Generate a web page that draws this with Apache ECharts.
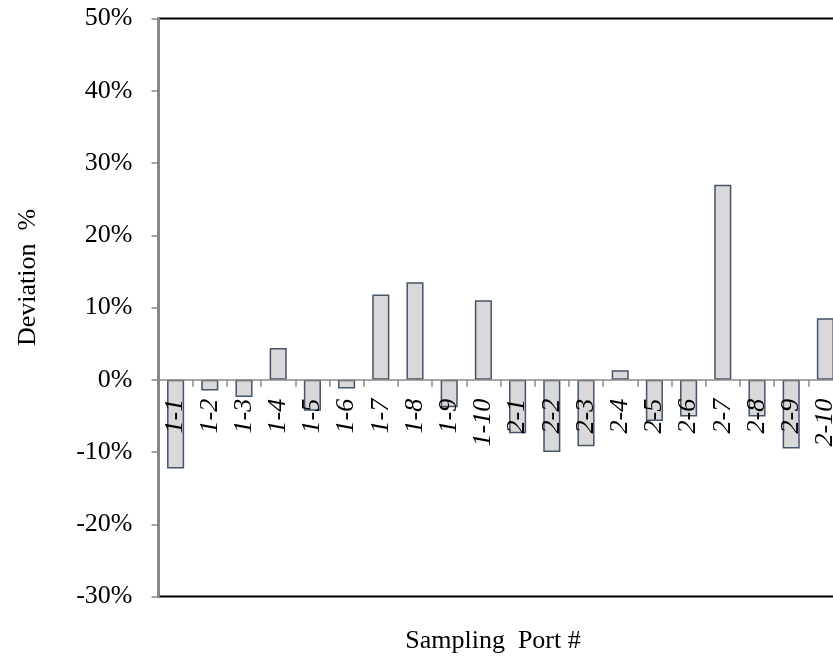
<!DOCTYPE html>
<html>
<head>
<meta charset="utf-8">
<script src="https://cdn.jsdelivr.net/npm/echarts@6/dist/echarts.min.js"></script>
<style>
html,body{margin:0;padding:0;background:#fff;}
#chart{width:833px;height:660px;}
</style>
</head>
<body>
<div id="chart"></div>
<script>
var categories = ['1-1','1-2','1-3','1-4','1-5','1-6','1-7','1-8','1-9','1-10',
                  '2-1','2-2','2-3','2-4','2-5','2-6','2-7','2-8','2-9','2-10'];
var deviation = [-12.3, -1.5, -2.4, 4.4, -4.3, -1.2, 11.8, 13.5, -3.8, 11.0,
                 -7.4, -10.0, -9.2, 1.3, -5.7, -5.1, 27.0, -5.1, -9.5, 8.5];
var yMin = -30, yMax = 50, yStep = 10;
var xTitle = 'Sampling  Port #';
var yTitle = 'Deviation  %';

var W = 833, H = 660;
var gridTop = 18.5, gridBottom = 63.5;
var plotH = H - gridTop - gridBottom;
// distance of the zero line above the bottom edge of the plot, from the axis range
var zeroOffset = plotH * (0 - yMin) / (yMax - yMin);

var serif = '"Liberation Serif", "Times New Roman", serif';
var chart = echarts.init(document.getElementById('chart'));
chart.setOption({
  animation: false,
  backgroundColor: '#fff',
  grid: { left: 158.5, width: 684, top: gridTop, bottom: gridBottom, containLabel: false,
          outerBoundsMode: 'none',
          show: true, borderColor: '#000', borderWidth: 2, backgroundColor: 'transparent' },
  xAxis: {
    type: 'category', data: categories, z: 5, position: 'bottom', offset: -zeroOffset,
    axisLine: { onZero: false, lineStyle: { color: '#898989', width: 1.5 } },
    axisTick: { show: true, length: 7, lineStyle: { color: '#898989', width: 1.5 } },
    axisLabel: { interval: 0, rotate: 90, margin: 19, fontFamily: serif, fontStyle: 'italic',
                 fontSize: 26, color: '#000' },
    splitLine: { show: false }
  },
  yAxis: {
    type: 'value', min: yMin, max: yMax, interval: yStep, z: 4,
    axisLine: { show: true, lineStyle: { color: '#898989', width: 2.5 } },
    axisTick: { show: true, length: 7, lineStyle: { color: '#898989', width: 1.5 } },
    axisLabel: { formatter: '{value}%', fontFamily: serif, fontSize: 26, color: '#000', margin: 26 },
    splitLine: { show: false }
  },
  series: [{
    type: 'bar', data: deviation, barWidth: '50%',
    itemStyle: { color: '#d9d9d9', borderColor: '#44546a', borderWidth: 1.5 }
  }],
  graphic: [
    { type: 'text', x: 493, y: 641, style: { text: xTitle, font: '26px ' + serif, fill: '#000',
      textAlign: 'center', textVerticalAlign: 'middle' } },
    { type: 'text', x: 28, y: 277.5, rotation: Math.PI / 2,
      style: { text: yTitle, font: '26px ' + serif, fill: '#000', textAlign: 'center', textVerticalAlign: 'middle' } }
  ]
});
</script>
</body>
</html>
